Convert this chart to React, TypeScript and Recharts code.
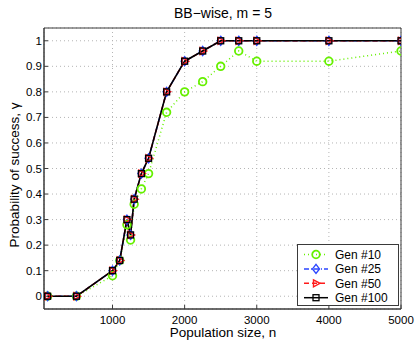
import React from "react";
import {
  LineChart,
  Line,
  XAxis,
  YAxis,
  CartesianGrid,
  Legend,
  ReferenceArea,
} from "recharts";

const popSizes = [100, 500, 1000, 1100, 1200, 1250, 1300, 1400, 1500, 1750, 2000, 2250, 2500, 2750, 3000, 4000, 5000];
const gen10 = [0, 0, 0.08, 0.14, 0.28, 0.22, 0.36, 0.42, 0.48, 0.72, 0.8, 0.84, 0.9, 0.96, 0.92, 0.92, 0.96];
const gen25 = [0, 0, 0.1, 0.14, 0.3, 0.24, 0.38, 0.48, 0.54, 0.8, 0.92, 0.96, 1, 1, 1, 1, 1];
const gen50 = [0, 0, 0.1, 0.14, 0.3, 0.24, 0.38, 0.48, 0.54, 0.8, 0.92, 0.96, 1, 1, 1, 1, 1];
const gen100 = [0, 0, 0.1, 0.14, 0.3, 0.24, 0.38, 0.48, 0.54, 0.8, 0.92, 0.96, 1, 1, 1, 1, 1];

const xTicks = [1000, 2000, 3000, 4000, 5000];
const yTicks = [0, 0.1, 0.2, 0.3, 0.4, 0.5, 0.6, 0.7, 0.8, 0.9, 1];
const seriesNames = ["Gen #10", "Gen #25", "Gen #50", "Gen #100"];

const data = popSizes.map((n, i) => ({
  n,
  g10: gen10[i],
  g25: gen25[i],
  g50: gen50[i],
  g100: gen100[i],
}));

const FONT = "'Liberation Sans', Arial, Helvetica, sans-serif";
const GREEN = "#66f000";
const BLUE = "#2b45ff";
const RED = "#ff1a1a";
const BLACK = "#000000";
const AXIS = "#3a3a3a";

const circleMarker = (cx: number, cy: number, key?: any) => (
  <circle key={key} cx={cx} cy={cy} r={3.8} fill="none" stroke={GREEN} strokeWidth={1.8} />
);
const diamondMarker = (cx: number, cy: number, key?: any) => (
  <polygon
    key={key}
    points={`${cx},${cy - 4.5} ${cx + 3.5},${cy} ${cx},${cy + 4.5} ${cx - 3.5},${cy}`}
    fill="none"
    stroke={BLUE}
    strokeWidth={1.4}
  />
);
const triMarker = (cx: number, cy: number, key?: any) => (
  <polygon
    key={key}
    points={`${cx - 2.5},${cy - 3.5} ${cx + 4},${cy} ${cx - 2.5},${cy + 3.5}`}
    fill="none"
    stroke={RED}
    strokeWidth={1.4}
  />
);
const squareMarker = (cx: number, cy: number, key?: any) => (
  <rect key={key} x={cx - 3} y={cy - 3} width={6} height={6} fill="none" stroke={BLACK} strokeWidth={1.3} />
);

const mkDot = (fn: (cx: number, cy: number, key?: any) => React.ReactElement) => (props: any) => {
  const { cx, cy, key, index } = props;
  if (cx == null || cy == null) return <g key={key ?? index} />;
  return fn(cx, cy, key ?? index);
};

const legendItems = [
  { name: seriesNames[0], color: GREEN, dash: "1 3", marker: circleMarker },
  { name: seriesNames[1], color: BLUE, dash: "5 2 1 2", marker: diamondMarker },
  { name: seriesNames[2], color: RED, dash: "5 3", marker: triMarker },
  { name: seriesNames[3], color: BLACK, dash: undefined, marker: squareMarker },
];

const LegendBox = () => (
  <svg width={102} height={62} style={{ display: "block" }}>
    <rect x={0.5} y={0.5} width={101} height={61} fill="#ffffff" stroke={AXIS} strokeWidth={1} />
    {legendItems.map((it, i) => {
      const cy = 10.5 + i * 14.4;
      return (
        <g key={it.name}>
          <line x1={7} x2={31} y1={cy} y2={cy} stroke={it.color} strokeWidth={1.5} strokeDasharray={it.dash} />
          {it.marker(19, cy)}
          <text x={38} y={cy + 4.2} fontSize={12} fontFamily={FONT} fill="#000">
            {it.name}
          </text>
        </g>
      );
    })}
  </svg>
);

export default function App() {
  return (
    <div style={{ position: "absolute", left: 0, top: 0, width: 415, height: 344, background: "#fff" }}>
      <LineChart width={415} height={344} data={data} margin={{ top: 28, right: 14, left: 0, bottom: 0 }}>
        <CartesianGrid stroke="#b5b5b5" strokeDasharray="1 3" />
        <XAxis
          dataKey="n"
          type="number"
          domain={[50, 5000]}
          ticks={xTicks}
          allowDataOverflow
          height={35}
          tickLine={{ stroke: AXIS }}
          tickSize={-4}
          tickMargin={11}
          axisLine={{ stroke: AXIS }}
          tick={{ fontSize: 11.5, fontFamily: FONT, fill: "#000" }}
          label={{
            content: () => (
              <text x={223} y={337} textAnchor="middle" fontSize={13.5} fontFamily={FONT} fill="#000">
                Population size, n
              </text>
            ),
          }}
        />
        <YAxis
          type="number"
          domain={[-0.05, 1.05]}
          ticks={yTicks}
          allowDataOverflow
          width={44}
          tickLine={{ stroke: AXIS }}
          tickSize={-4}
          tickMargin={6}
          axisLine={{ stroke: AXIS }}
          tickFormatter={(v: number) => String(Math.round(v * 10) / 10)}
          tick={{ fontSize: 11.5, fontFamily: FONT, fill: "#000" }}
          label={{
            content: () => (
              <g>
                <text
                  x={19}
                  y={175}
                  transform="rotate(-90 19 175)"
                  textAnchor="middle"
                  fontSize={13.5}
                  fontFamily={FONT}
                  fill="#000"
                >
                  Probability of success, γ
                </text>
                <text x={223} y={18} textAnchor="middle" fontSize={14} fontFamily={FONT} fill="#000">
                  BB−wise, m = 5
                </text>
              </g>
            ),
          }}
        />
        <ReferenceArea x1={50} x2={5000} y1={-0.05} y2={1.05} fill="none" stroke={AXIS} strokeWidth={1} />
        <Line
          dataKey="g10"
          name={seriesNames[0]}
          stroke={GREEN}
          strokeWidth={1.5}
          strokeDasharray="1 3"
          dot={mkDot(circleMarker)}
          isAnimationActive={false}
        />
        <Line
          dataKey="g25"
          name={seriesNames[1]}
          stroke={BLUE}
          strokeWidth={1.5}
          strokeDasharray="5 2 1 2"
          dot={mkDot(diamondMarker)}
          isAnimationActive={false}
        />
        <Line
          dataKey="g50"
          name={seriesNames[2]}
          stroke={RED}
          strokeWidth={1.5}
          strokeDasharray="5 3"
          dot={mkDot(triMarker)}
          isAnimationActive={false}
        />
        <Line
          dataKey="g100"
          name={seriesNames[3]}
          stroke={BLACK}
          strokeWidth={1.6}
          dot={mkDot(squareMarker)}
          isAnimationActive={false}
        />
        <Legend
          layout="vertical"
          align="center"
          verticalAlign="middle"
          content={() => <LegendBox />}
          wrapperStyle={{ position: "absolute", left: 297, top: 244, width: 102, height: 62 }}
        />
      </LineChart>
    </div>
  );
}
